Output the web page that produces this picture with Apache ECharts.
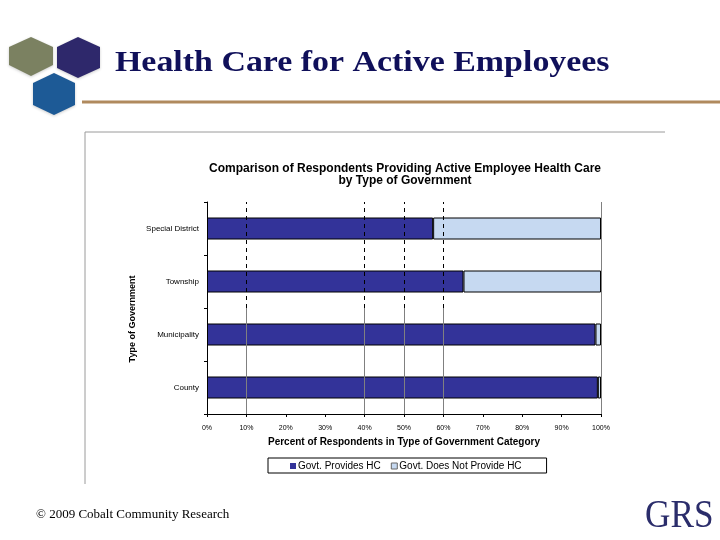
<!DOCTYPE html>
<html>
<head>
<meta charset="utf-8">
<script src="https://cdn.jsdelivr.net/npm/echarts@6/dist/echarts.min.js"></script>
<style>
html,body{margin:0;padding:0;background:#fff;}
#c{width:720px;height:540px;}
</style>
</head>
<body>
<div id="c"></div>
<script>
const categories = ['County', 'Municipality', 'Township', 'Special District'];
const providesHC = [99.2, 98.6, 65.1, 57.4];
const notProvideHC = [0.8, 1.4, 34.9, 42.6];
const seriesNames = ['Govt. Provides HC', 'Govt. Does Not Provide HC'];
const gridValues = [10, 40, 50, 60];

const chart = echarts.init(document.getElementById('c'), null, {renderer: 'canvas'});

const solidLines = gridValues.concat([100]).map(v => [{coord: [v, 0]}, {coord: [v, v === 100 ? 4 : 2]}]);
const dashedLines = gridValues.map(v => [{coord: [v, 2]}, {coord: [v, 4]}]);

const F = 'Liberation Sans, Arial, sans-serif';

chart.setOption({
  backgroundColor: '#ffffff',
  animation: false,
  title: {
    text: 'Comparison of Respondents Providing Active Employee Health Care\nby Type of Government',
    left: 400,
    top: 158,
    textAlign: 'center',
    textStyle: {fontFamily: F, fontSize: 12, fontWeight: 'bold', color: '#000', lineHeight: 12}
  },
  legend: {
    data: [
      {name: seriesNames[0], itemStyle: {borderWidth: 0}},
      {name: seriesNames[1], itemStyle: {borderColor: '#666', borderWidth: 1}}
    ],
    left: 268,
    top: 458,
    padding: [3, 25, 2, 22],
    itemWidth: 6,
    itemHeight: 6,
    itemGap: 10,
    icon: 'rect',
    borderColor: '#000',
    borderWidth: 1,
    borderRadius: 0,
    textStyle: {fontFamily: F, fontSize: 10, color: '#000', padding: [0, 0, 0, -3]}
  },
  grid: {left: 207, right: 119, top: 202, bottom: 126, containLabel: false},
  xAxis: {
    type: 'value',
    min: 0, max: 100, interval: 10,
    name: 'Percent of Respondents in Type of Government Category',
    nameLocation: 'middle',
    nameGap: 23,
    nameTextStyle: {fontFamily: F, fontSize: 10, fontWeight: 'bold', color: '#000'},
    axisLine: {show: true, lineStyle: {color: '#000', width: 1}},
    axisTick: {show: true, length: 3, lineStyle: {color: '#000'}},
    splitLine: {show: false},
    axisLabel: {fontFamily: F, fontSize: 7, color: '#000', margin: 11,
      formatter: v => v + '%'}
  },
  yAxis: [{
    type: 'category',
    data: categories,
    axisLine: {show: true, lineStyle: {color: '#000', width: 1}},
    axisTick: {show: true, length: 3, lineStyle: {color: '#000'}},
    axisLabel: {fontFamily: F, fontSize: 8, color: '#000', margin: 8},
    splitLine: {show: false}
  }, {
    type: 'value', min: 0, max: 4, show: false
  }],
  series: [{
    name: seriesNames[0],
    type: 'bar',
    stack: 'total',
    data: providesHC,
    barWidth: 22,
    z: 3,
    itemStyle: {color: '#333399', borderColor: '#000', borderWidth: 1}
  }, {
    name: seriesNames[1],
    type: 'bar',
    stack: 'total',
    data: notProvideHC,
    barWidth: 22,
    z: 3,
    itemStyle: {color: '#c6d9f1', borderColor: '#000', borderWidth: 1}
  }, {
    name: 'gridSolid',
    type: 'line',
    yAxisIndex: 1,
    data: [],
    z: 1,
    markLine: {silent: true, symbol: 'none', label: {show: false},
      lineStyle: {color: '#808080', width: 1, type: 'solid'}, data: solidLines}
  }, {
    name: 'gridDashed',
    type: 'line',
    yAxisIndex: 1,
    data: [],
    z: 1,
    markLine: {silent: true, symbol: 'none', label: {show: false},
      lineStyle: {color: '#000', width: 1, type: [4, 4]}, data: dashedLines}
  }],
  graphic: [
    {type: 'polygon', shape: {points: [[31,37],[53,47],[53,65],[31,76],[9,65],[9,47]]},
      style: {fill: '#7b8161', shadowBlur: 3, shadowColor: 'rgba(0,0,0,0.2)', shadowOffsetY: 1}},
    {type: 'polygon', shape: {points: [[78,37],[100,47],[100,68],[78,78],[57,68],[57,47]]},
      style: {fill: '#2e286b', shadowBlur: 3, shadowColor: 'rgba(0,0,0,0.2)', shadowOffsetY: 1}},
    {type: 'polygon', shape: {points: [[54,73],[75,83],[75,105],[54,115],[33,105],[33,83]]},
      style: {fill: '#1d5a96', shadowBlur: 3, shadowColor: 'rgba(0,0,0,0.2)', shadowOffsetY: 1}},
    {type: 'text', x: 115, y: 48, scaleX: 1.13,
      style: {text: 'Health Care for Active Employees', font: 'bold 30px "Liberation Serif", "Times New Roman", serif', fill: '#10105a'}},
    {type: 'line', shape: {x1: 82, y1: 102, x2: 720, y2: 102}, style: {stroke: '#b08a5e', lineWidth: 3}},
    {type: 'line', shape: {x1: 85, y1: 132, x2: 665, y2: 132}, style: {stroke: '#9a9a9a', lineWidth: 1}},
    {type: 'line', shape: {x1: 85, y1: 132, x2: 85, y2: 484}, style: {stroke: '#9a9a9a', lineWidth: 1}},
    {type: 'text', x: 133, y: 319, rotation: Math.PI / 2,
      style: {text: 'Type of Government', font: 'bold 9px "Liberation Sans", Arial, sans-serif', fill: '#000',
        align: 'center', verticalAlign: 'middle'}},
    {type: 'text', x: 36, y: 508,
      style: {text: '\u00a9 2009 Cobalt Community Research', font: '13px "Liberation Serif", "Times New Roman", serif', fill: '#000'}},
    {type: 'text', x: 645, y: 496, scaleX: 0.88,
      style: {text: 'GRS', font: '40px "Liberation Serif", "Times New Roman", serif', fill: '#2b2d6b'}}
  ]
});
</script>
</body>
</html>
